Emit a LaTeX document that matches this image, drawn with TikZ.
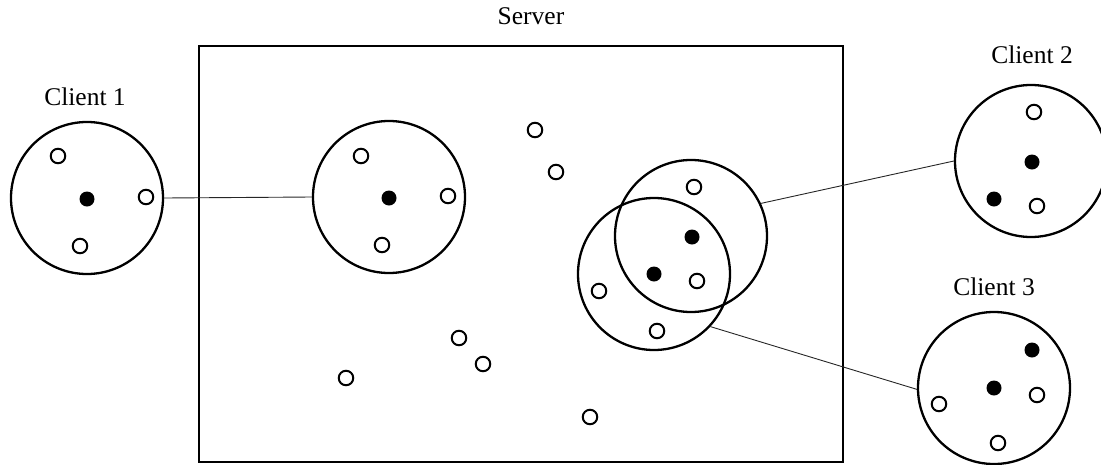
\documentclass[tikz,border=0pt]{standalone}
\usepackage{fontspec}
\setmainfont{Liberation Serif}
\begin{document}
\begin{tikzpicture}[x=1pt,y=-1pt,
  bigc/.style={circle,draw,line width=2.3pt,inner sep=0pt,minimum size=152pt},
  hollow/.style={circle,draw,line width=2pt,fill=white,inner sep=0pt,minimum size=14.5pt},
  solid/.style={circle,fill=black,inner sep=0pt,minimum size=15pt},
  link/.style={draw=black!85,line width=0.9pt},
  lbl/.style={font=\fontsize{25.5}{30}\selectfont,inner sep=0pt}]
\useasboundingbox (0,0) rectangle (1101,464);

% server area
\node[draw,line width=2.6pt,minimum width=644pt,minimum height=416pt,inner sep=0pt] (srv) at (521,254) {};
\node[lbl] (srvlbl) at (531,16) {Server};

% client 1
\node[lbl] (c1lbl) at (85,97) {Client 1};
\node[bigc] (c1) at (87,198) {};
\node[hollow] (c1a) at (58,156) {};
\node[solid]  (c1b) at (87,199) {};
\node[hollow] (c1c) at (146,197) {};
\node[hollow] (c1d) at (80,246) {};

% server-side copy of client 1
\node[bigc] (s1) at (389,197) {};
\node[hollow] (s1a) at (361,156) {};
\node[solid]  (s1b) at (389,198) {};
\node[hollow] (s1c) at (448,196) {};
\node[hollow] (s1d) at (382,245) {};

% loose points on the server
\node[hollow] (p1) at (535,130) {};
\node[hollow] (p2) at (556,172) {};
\node[hollow] (p3) at (459,338) {};
\node[hollow] (p4) at (483,364) {};
\node[hollow] (p5) at (346,378) {};
\node[hollow] (p6) at (590,417) {};

% overlapping server-side circles
\node[bigc] (sa) at (691,236) {};
\node[bigc] (sb) at (654,274) {};
\node[hollow] (sa1) at (694,187) {};
\node[solid]  (sa2) at (692,237) {};
\node[solid]  (sa3) at (654,274) {};
\node[hollow] (sa4) at (697,281) {};
\node[hollow] (sb1) at (599,291) {};
\node[hollow] (sb2) at (657,331) {};

% client 2
\node[lbl] (c2lbl) at (1032,55) {Client 2};
\node[bigc] (c2) at (1031,161) {};
\node[hollow] (c2a) at (1034,112) {};
\node[solid]  (c2b) at (1032,162) {};
\node[solid]  (c2c) at (994,199) {};
\node[hollow] (c2d) at (1037,206) {};

% client 3
\node[lbl] (c3lbl) at (994,287) {Client 3};
\node[bigc] (c3) at (994,388) {};
\node[solid]  (c3a) at (1032,350) {};
\node[solid]  (c3b) at (994,388) {};
\node[hollow] (c3c) at (1037,395) {};
\node[hollow] (c3d) at (939,404) {};
\node[hollow] (c3e) at (998,443) {};

% connectors
\draw[link] (c1.east) -- (s1.west);
\draw[link] (sa.25) -- (c2.180);
\draw[link] (sb.-43) -- (c3.181);
\end{tikzpicture}
\end{document}
